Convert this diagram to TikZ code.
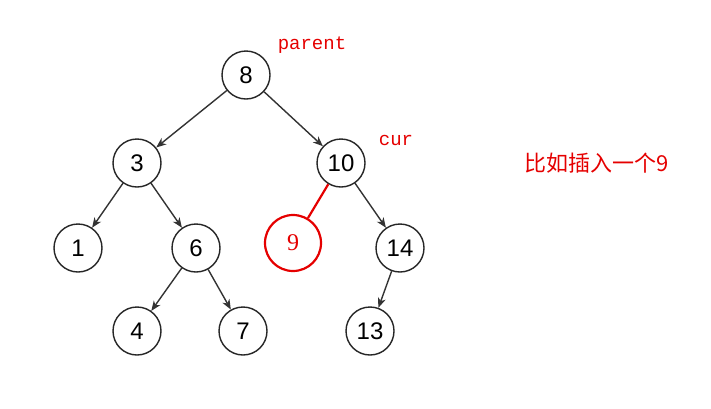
\documentclass[tikz,border=0pt]{standalone}
\usepackage{fontspec}
\setmainfont{Liberation Sans}
\newfontfamily\monofont{Liberation Mono}
\newfontfamily\seriffont{Liberation Serif}
\newfontfamily\cjk{Noto Sans CJK SC}
\usetikzlibrary{shapes,arrows.meta,positioning}
\usepackage{xcolor}

\tikzset{
    treenode/.style={draw=black!85, circle, line width=1.4pt, minimum size=48pt, inner sep=0pt, font=\fontsize{24}{26}\selectfont},
    newnode/.style={draw=red!90!black, circle, line width=2.2pt, minimum size=56pt, inner sep=0pt, text=red!90!black, font=\seriffont\fontsize{24}{26}\selectfont},
    treeedge/.style={draw=black!80, line width=1.4pt, -{Stealth[length=10pt, width=8pt, inset=3pt]}},
    tag/.style={text=red!90!black, font=\monofont\fontsize{19}{21}\selectfont}
}

\begin{document}
\begin{tikzpicture}[x=1pt, y=-1pt]
    \useasboundingbox (0,0) rectangle (711,408);
    % Nodes
    \node[treenode] (n8) at (246,75) {8};
    \node[treenode] (n3) at (137,163) {3};
    \node[treenode] (n10) at (341,163) {10};
    \node[treenode] (n1) at (78,248) {1};
    \node[treenode] (n6) at (196,248) {6};
    \node[treenode] (n14) at (400,248) {14};
    \node[treenode] (n4) at (137,331) {4};
    \node[treenode] (n7) at (243,331) {7};
    \node[treenode] (n13) at (370,331) {13};
    \node[newnode] (n9) at (293,243) {9};
    
    % Labels
    \node[tag] (parent) at (312,45) {parent};
    \node[tag] (cur) at (396,140) {cur};
    \node[text=red!90!black, font=\cjk\fontsize{22}{24}\selectfont] (note) at (597,163) {比如插入一个9};
    
    % Edges
    \draw[treeedge] (n8) -- (n3);
    \draw[treeedge] (n8) -- (n10);
    \draw[treeedge] (n3) -- (n1);
    \draw[treeedge] (n3) -- (n6);
    \draw[treeedge] (n6) -- (n4);
    \draw[treeedge] (n6) -- (n7);
    \draw[treeedge] (n10) -- (n14);
    \draw[treeedge] (n14) -- (n13);
    \draw[draw=red!90!black, line width=2.2pt] (n10) -- (n9);
\end{tikzpicture}
\end{document}
